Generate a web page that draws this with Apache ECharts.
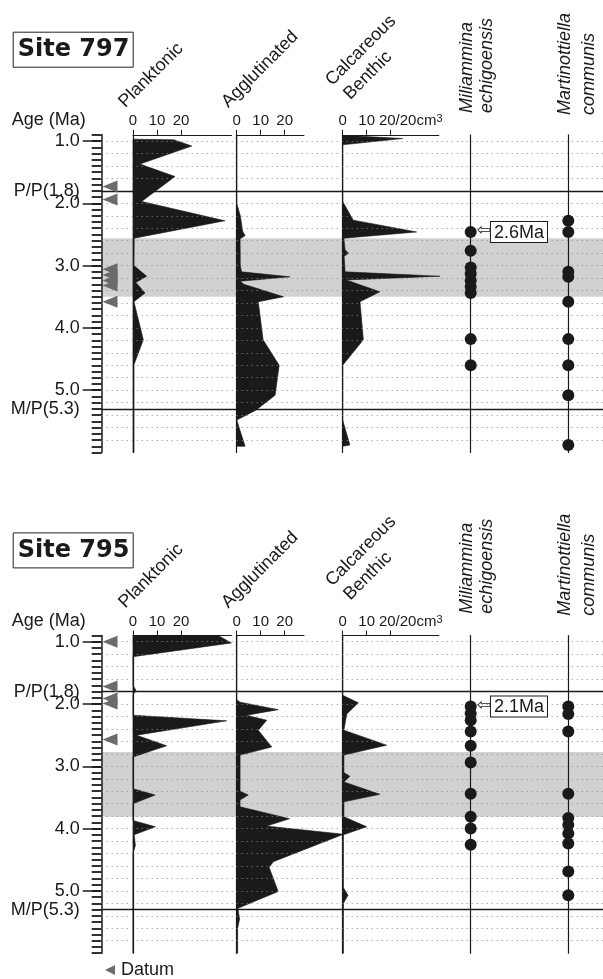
<!DOCTYPE html>
<html><head><meta charset="utf-8">
<script src="https://cdn.jsdelivr.net/npm/echarts@6/dist/echarts.min.js"></script>
<style>html,body{margin:0;padding:0;background:#fff}#c{width:603px;height:979px}</style>
</head><body><div id="c"></div>
<script>
// ---------- shared axis definitions ----------
const ageMin = 0.9, ageMax = 6.0;
const ageLabelValues = [1.0, 1.8, 2.0, 3.0, 4.0, 5.0, 5.3];
const ageLabelTexts  = ['1.0', 'P/P(1.8)', '2.0', '3.0', '4.0', '5.0', 'M/P(5.3)'];
const majorTickValues = [1, 2, 3, 4, 5];
const boundaryAges = [1.8, 5.3];
const dottedGridAges = [1.0,1.2,1.4,1.6,2.0,2.2,2.4,2.6,2.8,3.0,3.2,3.4,3.6,3.8,4.0,4.2,4.4,4.6,4.8,5.0,5.2,5.4,5.6,5.8];
const scaleTicks = [0, 10, 20];
const columnTitles = ['Planktonic', 'Agglutinated', 'Calcareous', 'Benthic'];
const speciesTitles = ['Miliammina', 'echigoensis', 'Martinottiella', 'communis'];

// ---------- Site 797 : [age (Ma), number / 20 cm3] ----------
const s797Planktonic = [[0.97,0],[0.98,17],[1.08,24.5],[1.37,2.9],[1.57,17.5],[1.97,3.6],[2.28,38.3],[2.56,0.5],[3.0,0.4],[3.17,5.7],[3.27,1.2],[3.44,5],[3.58,0.4],[4.19,4.3],[4.59,0.4],[6.0,0.4]];
const s797Agglutinated = [[0.9,0],[2.0,0],[2.2,1.5],[2.45,2.5],[2.52,3.5],[2.57,1.4],[3.0,1.5],[3.1,2],[3.18,22.2],[3.25,1.5],[3.3,3],[3.5,19.5],[3.58,9],[4.19,11],[4.6,17.7],[5.08,16],[5.32,8],[5.48,0],[5.9,3.5],[5.9,0]];
const s797Calcareous = [[0.92,6],[0.96,25],[1.06,0],[1.97,0],[2.27,4.4],[2.46,30.8],[2.56,0.5],[2.75,1],[2.8,2.5],[2.85,0.6],[3.1,1],[3.17,40.5],[3.23,1.5],[3.42,15.5],[3.58,7.2],[4.19,8.6],[4.6,0],[5.48,0],[5.88,3],[5.9,0]];
const s797Miliammina = [2.46,2.76,3.03,3.13,3.24,3.34,3.44,4.18,4.6];
const s797Martinottiella = [2.28,2.46,3.10,3.18,3.58,4.18,4.6,5.08,5.88];
const s797Datums = [1.73,1.94,3.06,3.15,3.24,3.32,3.58];
const s797Band = [2.56, 3.5];
const s797FirstOccurrence = '2.6Ma';

// ---------- Site 795 ----------
const s795Planktonic = [[0.9,35.5],[1.02,41],[1.24,0],[1.7,0],[1.78,1.2],[1.86,0],[2.18,0],[2.27,39],[2.5,1.5],[2.67,14],[2.85,0],[3.36,0],[3.46,9.2],[3.6,0],[3.87,0],[3.97,9.3],[4.1,0.5],[4.27,1],[4.4,0],[6.0,0]];
const s795Agglutinated = [[0.9,0],[1.93,0],[1.97,1.4],[2.09,17.3],[2.18,4.2],[2.26,12.5],[2.42,9],[2.69,14.6],[2.82,1.4],[3.4,1.4],[3.46,4.8],[3.54,1.4],[3.65,1.4],[3.84,22],[3.96,12.5],[4.09,44.5],[4.53,15.3],[4.62,13.5],[5.01,17.3],[5.28,0.5],[5.45,1.2],[5.6,0.4],[6.0,0.4]];
const s795Calcareous = [[0.9,0],[1.86,0],[1.98,6.5],[2.16,1.7],[2.42,0.5],[2.66,18.3],[2.82,0.5],[3.1,0.5],[3.16,3],[3.25,0.5],[3.45,15.5],[3.57,0.5],[3.81,0.5],[3.97,10],[4.1,0.3],[4.95,0.3],[5.07,2.2],[5.2,0.3],[6.0,0.3]];
const s795Miliammina = [2.04,2.15,2.26,2.44,2.67,2.94,3.44,3.81,4.0,4.26];
const s795Martinottiella = [2.04,2.16,2.44,3.44,3.83,3.94,4.08,4.24,4.69,5.07];
const s795Datums = [1.0,1.72,1.91,1.99,2.57];
const s795Band = [2.77, 3.81];
const s795FirstOccurrence = '2.1Ma';

const sites = [
  {name:'Site 797', top:134.8, plank:s797Planktonic, aggl:s797Agglutinated, calc:s797Calcareous, mili:s797Miliammina, mart:s797Martinottiella, datums:s797Datums, band:s797Band, fo:s797FirstOccurrence},
  {name:'Site 795', top:635.5, plank:s795Planktonic, aggl:s795Agglutinated, calc:s795Calcareous, mili:s795Miliammina, mart:s795Martinottiella, datums:s795Datums, band:s795Band, fo:s795FirstOccurrence}
];

// ---------- layout ----------
const H = 317.7, PX = 2.4;
const INK = '#1a1a1a', FONT = 'Liberation Sans';
const grids = [], xAxes = [], yAxes = [], series = [], graphics = [], titles = [];

function ageY(gridIndex){
  return {gridIndex, type:'value', min:ageMin, max:ageMax, inverse:true, z:3,
    axisLine:{show:true, lineStyle:{color:INK, width:1.2}},
    axisTick:{show:false}, axisLabel:{show:false}, splitLine:{show:false}};
}
function addColumn(left, maxVal, top, scale, calc){
  const g = grids.push({left, top, width:maxVal*PX, height:H}) - 1;
  const xa = {gridIndex:g, type:'value', min:0, max:maxVal, position:'top', z:3, show:true,
    axisLine:{show:scale, lineStyle:{color:INK, width:1.2}},
    axisTick:{show:scale, customValues:scaleTicks, length:5, lineStyle:{color:INK}},
    axisLabel:{show:scale, customValues:scaleTicks, fontSize:15, fontFamily:FONT, color:INK, margin:6},
    splitLine:{show:false}};
  if (calc) {
    xa.axisLabel.formatter = v => v === 20 ? '{p|20}{u|/20cm}{s|3}' : String(v);
    xa.axisLabel.rich = {
      p:{fontSize:15, fontFamily:FONT, color:INK, padding:[0,0,0,40]},
      u:{fontSize:15, fontFamily:FONT, color:INK},
      s:{fontSize:11, fontFamily:FONT, color:INK, lineHeight:11, padding:[0,0,12,0], verticalAlign:'top'}
    };
  }
  const xi = xAxes.push(xa) - 1;
  const yi = yAxes.push(ageY(g)) - 1;
  return {xi, yi};
}
function areaSeries(points, ax){
  return {type:'custom', xAxisIndex:ax.xi, yAxisIndex:ax.yi, clip:false, silent:true, z:4,
    data: points.map(p => [p[1], p[0]]), encode:{x:0, y:1},
    renderItem(params, api){
      if (params.dataIndex !== 0) return null;
      const pts = [api.coord([0, points[0][0]])];
      points.forEach(p => pts.push(api.coord([p[1], p[0]])));
      pts.push(api.coord([0, points[points.length-1][0]]));
      return {type:'polygon', shape:{points:pts}, style:{fill:INK, stroke:INK, lineWidth:0.6}};
    }};
}
function dotSeries(ages, ax, labelText){
  const data = ages.map(a => [0, a]);
  if (labelText) {
    data[0] = {value:[0, ages[0]], label:{show:true, position:'right', distance:0,
      formatter:'{a|\u21e6}{b|' + labelText + '}',
      rich:{a:{fontSize:17, fontFamily:'DejaVu Sans', color:INK, padding:[0,0,2,0]},
            b:{fontSize:18, fontFamily:FONT, color:INK, borderColor:INK, borderWidth:1, padding:[2,3,0,3], backgroundColor:'#fff'}}}};
  }
  return {type:'scatter', xAxisIndex:ax.xi, yAxisIndex:ax.yi, data, symbol:'circle', symbolSize:12,
    itemStyle:{color:INK, opacity:1}, clip:false, silent:true, z:5};
}
function txt(x, y, text, opt){
  return Object.assign({type:'text', x, y, silent:true, z:10,
    style:Object.assign({text, font:'18px "' + FONT + '"', fill:INK, align:'left', verticalAlign:'middle',
      textAlign:'left', textVerticalAlign:'middle'}, opt && opt.style)}, opt && opt.el);
}

sites.forEach(site => {
  const top = site.top, dy = top - 134.8;
  // age axis grid (labels, ticks, grid lines, boundaries, band)
  const gA = grids.push({left:101.7, top, width:501.3, height:H}) - 1;
  const xA = xAxes.push({gridIndex:gA, type:'value', min:0, max:1, show:false}) - 1;
  const yMajor = yAxes.push({gridIndex:gA, type:'value', min:ageMin, max:ageMax, inverse:true, position:'left', z:3,
    axisLine:{show:true, lineStyle:{color:INK, width:1.5}},
    axisTick:{show:true, customValues:majorTickValues, length:19, lineStyle:{color:INK, width:1.5}},
    axisLabel:{show:true, customValues:ageLabelValues, margin:22, fontSize:18, fontFamily:FONT, color:INK,
      formatter: v => { const i = ageLabelValues.findIndex(a => Math.abs(a - v) < 1e-6); return i >= 0 ? ageLabelTexts[i] : ''; }},
    splitLine:{show:false}}) - 1;
  yAxes.push({gridIndex:gA, type:'value', min:ageMin, max:ageMax, interval:0.1, inverse:true, position:'left', z:3,
    axisLine:{show:false}, axisTick:{show:true, length:10, lineStyle:{color:INK, width:1.8}},
    axisLabel:{show:false}, splitLine:{show:false}});
  series.push({type:'line', xAxisIndex:xA, yAxisIndex:yMajor, data:[[0, ageMin]], symbol:'none', silent:true, z:1,
    lineStyle:{opacity:0},
    markArea:{silent:true, itemStyle:{color:'rgba(140,140,140,0.4)'}, data:[[{yAxis:site.band[0]}, {yAxis:site.band[1]}]]},
    markLine:{silent:true, symbol:'none', label:{show:false}, animation:false,
      data: dottedGridAges.map(a => ({yAxis:a, lineStyle:{type:[1,4], color:'#8a8a8a', width:1}}))
        .concat(boundaryAges.map(a => ({yAxis:a, lineStyle:{type:'solid', color:INK, width:1.3}})))}});
  // datum triangles
  const gD = grids.push({left:102, top, width:16, height:H}) - 1;
  const xD = xAxes.push({gridIndex:gD, type:'value', min:0, max:1, show:false}) - 1;
  const yD = yAxes.push({gridIndex:gD, type:'value', min:ageMin, max:ageMax, inverse:true, show:false}) - 1;
  series.push({type:'scatter', name:'Datum', xAxisIndex:xD, yAxisIndex:yD, data:site.datums.map(a => [0.5, a]),
    symbol:'triangle', symbolSize:[12,15], symbolRotate:90, itemStyle:{color:'#6b6b6b', opacity:1}, clip:false, silent:true, z:5});
  // abundance columns
  const axP = addColumn(133, 41, top, true, false);
  const axA = addColumn(236.7, 28, top, true, false);
  const axC = addColumn(342.7, 40, top, true, true);
  series.push(areaSeries(site.plank, axP), areaSeries(site.aggl, axA), areaSeries(site.calc, axC));
  // species occurrence columns
  const axM = addColumn(470.7, 8, top, false, false);
  const axT = addColumn(568.3, 8, top, false, false);
  series.push(dotSeries(site.mili, axM, site.fo), dotSeries(site.mart, axT, null));
  // titles and texts
  titles.push({text:site.name, left:12.7, top:31.7 + dy, borderColor:'#222', borderWidth:1, padding:[6,4,6,5],
    textStyle:{fontFamily:'DejaVu Sans', fontWeight:'bold', fontSize:24, color:INK}});
  graphics.push(txt(11.7, 120 + dy, 'Age (Ma)'));
  const rot45 = {el:{rotation:Math.PI/4}, style:{verticalAlign:'bottom', textVerticalAlign:'bottom'}};
  graphics.push(txt(128, 111 + dy, columnTitles[0], rot45));
  graphics.push(txt(231, 111 + dy, columnTitles[1], rot45));
  graphics.push(txt(335, 89 + dy, columnTitles[2], rot45));
  graphics.push(txt(353, 103 + dy, columnTitles[3], rot45));
  const rot90 = {el:{rotation:Math.PI/2}, style:{font:'italic 18px "' + FONT + '"'}};
  graphics.push(txt(467, 113 + dy, speciesTitles[0], rot90));
  graphics.push(txt(487, 113 + dy, speciesTitles[1], rot90));
  graphics.push(txt(565, 115 + dy, speciesTitles[2], rot90));
  graphics.push(txt(589, 115 + dy, speciesTitles[3], rot90));
});

const chart = echarts.init(document.getElementById('c'), null, {renderer:'canvas'});
chart.setOption({
  animation:false,
  backgroundColor:'#fff',
  title:titles,
  legend:{data:[{name:'Datum', icon:'path://M10,0L10,10L0,5Z'}], symbolRotate:0, left:105, top:961, padding:0,
    itemWidth:12, itemHeight:10, itemGap:0, selectedMode:false,
    textStyle:{fontSize:18, fontFamily:FONT, color:INK}},
  grid:grids, xAxis:xAxes, yAxis:yAxes, series, graphic:graphics
});
</script></body></html>
